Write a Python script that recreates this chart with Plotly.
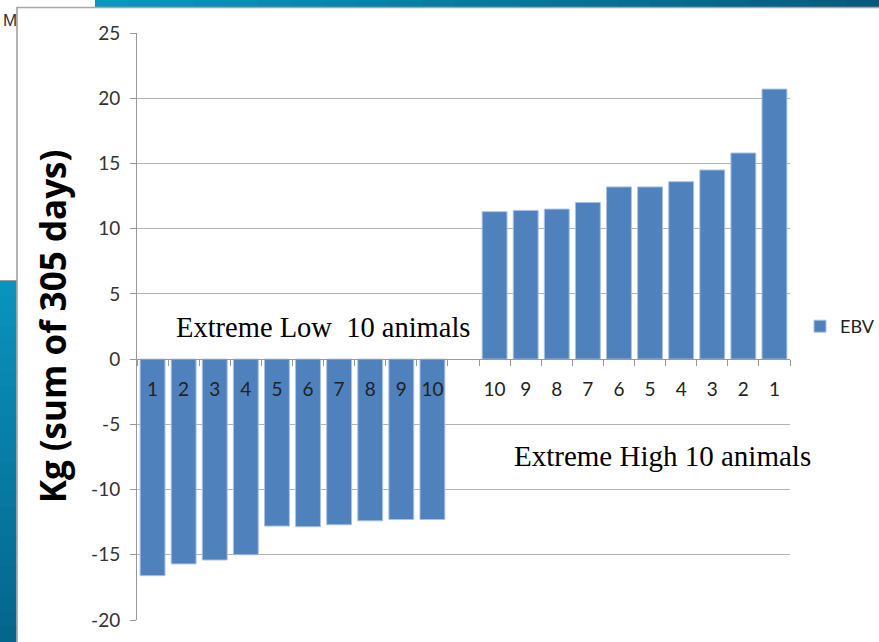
import plotly.graph_objects as go

# EBV of the ten lowest and ten highest animals (kg, sum of 305 days)
low_labels = ["1", "2", "3", "4", "5", "6", "7", "8", "9", "10"]
low_values = [-16.6, -15.7, -15.4, -15.0, -12.8, -12.85, -12.7, -12.4, -12.3, -12.3]
high_labels = ["10", "9", "8", "7", "6", "5", "4", "3", "2", "1"]
high_values = [11.3, 11.4, 11.5, 12.0, 13.2, 13.2, 13.6, 14.5, 15.8, 20.7]
series_name = "EBV"
y_ticks = [-20, -15, -10, -5, 0, 5, 10, 15, 20, 25]
y_tick_text = ["-20", "-15", "-10", "-5", "0", "5", "10", "15", "20", "25"]

# unique category keys; an empty slot separates the two groups
keys = [f"L{t}" for t in low_labels] + ["gap"] + [f"H{t}" for t in high_labels]
texts = low_labels + [""] + high_labels
values = low_values + [None] + high_values

W, H = 879, 642
ML, MR, MT, MB = 137, 89, 33, 22
PW, PH = W - ML - MR, H - MT - MB


def px(x):
    return (x - ML) / PW


def py(y):
    return (H - MB - y) / PH


def mix(c1, c2, t):
    a = [int(c1[i:i + 2], 16) for i in (1, 3, 5)]
    b = [int(c2[i:i + 2], 16) for i in (1, 3, 5)]
    return "#" + "".join(f"{round(a[k] + (b[k] - a[k]) * t):02x}" for k in range(3))


fig = go.Figure(go.Bar(
    x=keys, y=values, name=series_name,
    marker=dict(color="#4f81bd", line=dict(color="#a9c1e3", width=1)),
    showlegend=True,
))

shapes = []
# slide decoration behind the chart: side panel and top band
n = 24
for i in range(n):
    y0 = 281 + (642 - 281) * i / n
    y1 = 281 + (642 - 281) * (i + 1) / n + 1.5
    shapes.append(dict(type="rect", xref="paper", yref="paper",
                       x0=px(0), x1=px(16.5), y0=py(min(y1, 642)), y1=py(y0),
                       fillcolor=mix("#0a93bd", "#05668c", i / (n - 1)),
                       line=dict(width=0), layer="below"))
for i in range(n):
    x0 = 95 + (879 - 95) * i / n
    x1 = 95 + (879 - 95) * (i + 1) / n + 1.5
    shapes.append(dict(type="rect", xref="paper", yref="paper",
                       x0=px(x0), x1=px(min(x1, 879)), y0=py(7), y1=py(0),
                       fillcolor=mix("#0997c2", "#045b7e", i / (n - 1)),
                       line=dict(width=0), layer="below"))
shapes.append(dict(type="line", xref="paper", yref="paper",
                   x0=px(0), x1=px(17), y0=py(280.5), y1=py(280.5),
                   line=dict(color="#9a9a9a", width=1), layer="below"))
shapes.append(dict(type="line", xref="paper", yref="paper",
                   x0=px(17), x1=px(879), y0=py(7.5), y1=py(7.5),
                   line=dict(color="#a8a8a8", width=1.5), layer="below"))
shapes.append(dict(type="line", xref="paper", yref="paper",
                   x0=px(17), x1=px(17), y0=py(7), y1=py(642),
                   line=dict(color="#9a9a9a", width=1.5), layer="below"))

y_min, y_max = y_ticks[0], y_ticks[-1]

fig.update_layout(
    width=W, height=H,
    margin=dict(l=ML, r=MR, t=MT, b=MB, pad=0, autoexpand=False),
    paper_bgcolor="white", plot_bgcolor="white",
    bargap=0.2,
    font=dict(family="Lato", size=18, color="#333333"),
    shapes=shapes,
    legend=dict(x=px(800), y=0.5, xanchor="left", yanchor="middle",
                font=dict(family="Lato", size=18, color="#222222"),
                bgcolor="rgba(0,0,0,0)"),
    xaxis=dict(
        type="category", categoryorder="array", categoryarray=keys,
        tickmode="array", tickvals=keys, ticktext=texts,
        tickson="boundaries", ticks="outside", ticklen=6, tickcolor="#999999",
        showline=True, linecolor="#999999", linewidth=1,
        showgrid=False, zeroline=False,
        anchor="free", position=(0 - y_min) / (y_max - y_min),
        ticklabelstandoff=13,
        tickfont=dict(family="Lato", size=19, color="#222222"),
    ),
    yaxis=dict(
        range=[y_min, y_max], tickmode="array", tickvals=y_ticks, ticktext=y_tick_text,
        ticks="outside", ticklen=6, tickcolor="#999999",
        showline=True, linecolor="#999999", linewidth=1,
        showgrid=True, gridcolor="#b3b3b3", gridwidth=1,
        zeroline=False,
        ticklabelstandoff=6,
        tickfont=dict(family="Lato", size=19, color="#333333"),
        title=dict(text="<b>Kg (sum of 305 days)</b>",
                   font=dict(family="Open Sans", size=35, color="#000000"),
                   standoff=13),
    ),
    annotations=[
        dict(text="Extreme Low\u00a0 10 animals", xref="paper", yref="y",
             x=px(323), y=2.4, showarrow=False, xanchor="center", yanchor="middle",
             font=dict(family="Liberation Serif", size=28.5, color="#000000")),
        dict(text="Extreme High 10 animals", xref="paper", yref="y",
             x=px(662), y=-7.4, showarrow=False, xanchor="center", yanchor="middle",
             font=dict(family="Liberation Serif", size=29, color="#000000")),
        dict(text="M", xref="paper", yref="paper", x=px(1), y=py(21),
             showarrow=False, xanchor="left", yanchor="middle",
             font=dict(family="Liberation Sans", size=17, color="#333333")),
    ],
)

fig.write_html("out.html")
